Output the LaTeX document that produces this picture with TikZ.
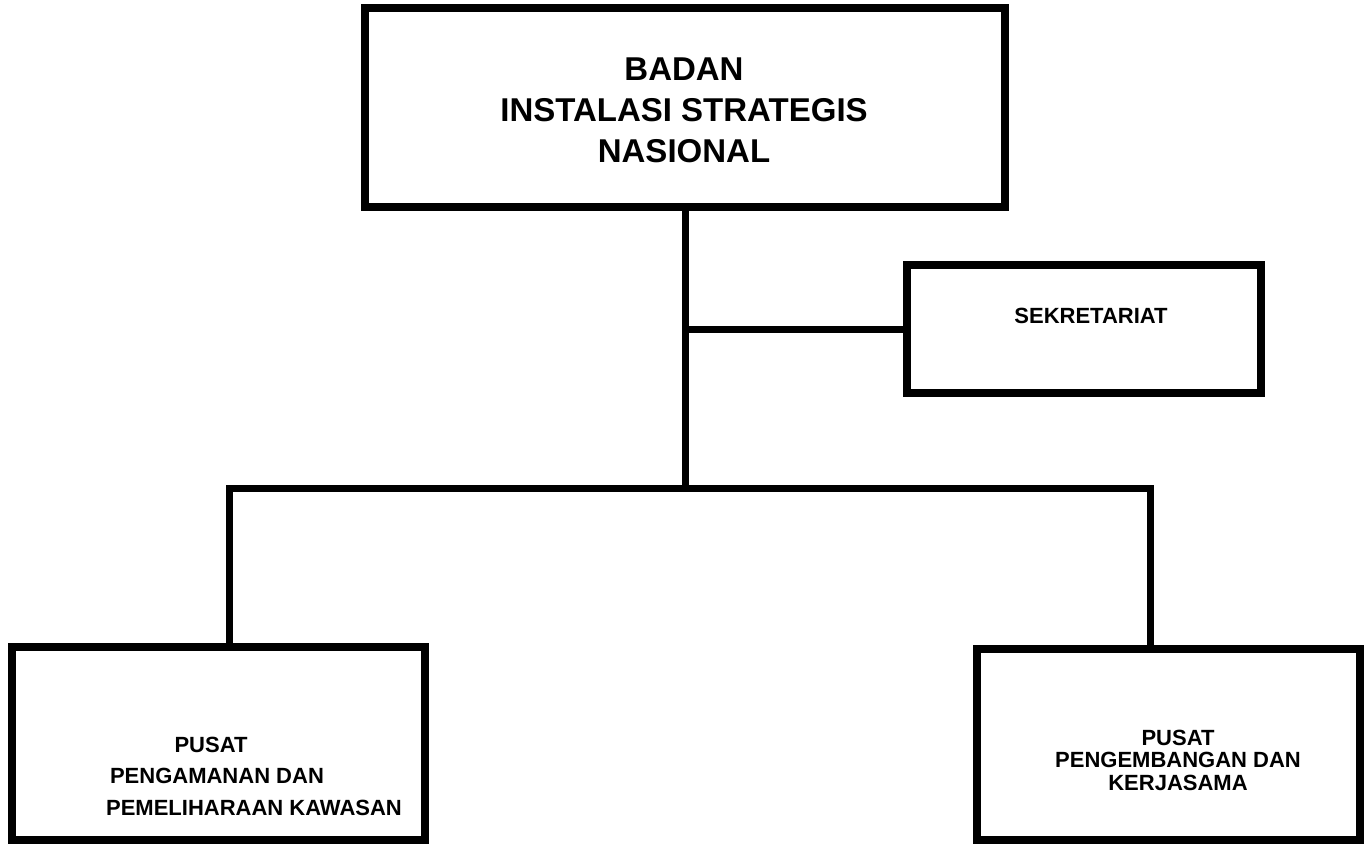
\documentclass[tikz,border=0pt]{standalone}
\usepackage{fontspec}
\setmainfont{Liberation Sans}
\usetikzlibrary{positioning}

\tikzset{
  unitbox/.style={draw=black,line width=8pt,minimum width=#1,inner sep=0pt},
  unittext/.style={align=center,font=\bfseries\fontsize{22}{31.5}\selectfont},
  link/.style={draw=black,line width=7pt,line join=miter}
}

\begin{document}
\begin{tikzpicture}[x=1pt,y=-1pt]
  \useasboundingbox (0,0) rectangle (1364,844);
  % boxes
  \node[unitbox=640pt,minimum height=199pt] (badan) at (685,107.5) {};
  \node[unittext,font=\bfseries\fontsize{33}{41}\selectfont] (badantext) at (684,110)
    {BADAN\\INSTALASI STRATEGIS\\NASIONAL};
  \node[unitbox=354pt,minimum height=128pt] (sekretariat) at (1084,329) {};
  \node[unittext] (sekretariattext) at (1091,316) {SEKRETARIAT};
  \node[unitbox=413pt,minimum height=193pt] (pusatA) at (218.5,743.5) {};
  \node[unittext] (pusatAtext) at (254,776)
    {PUSAT\rule{86pt}{0pt}\\PENGAMANAN DAN\rule{74pt}{0pt}\\PEMELIHARAAN KAWASAN};
  \node[unitbox=383pt,minimum height=191pt] (pusatB) at (1168.5,744.5) {};
  \node[unittext,font=\bfseries\fontsize{22}{22.5}\selectfont] (pusatBtext) at (1178,760)
    {PUSAT\\PENGEMBANGAN DAN\\KERJASAMA};
  % lines
  \coordinate (barL) at (229,488);
  \coordinate (barR) at (1150,488);
  \draw[link] (badan.south) -- (badan.south |- barL);
  \draw[link] (badan.south |- sekretariat.west) -- (sekretariat.west);
  \draw[link] (barL |- pusatA.north) -- (barL) -- (barR) -- (barR |- pusatB.north);
\end{tikzpicture}
\end{document}
